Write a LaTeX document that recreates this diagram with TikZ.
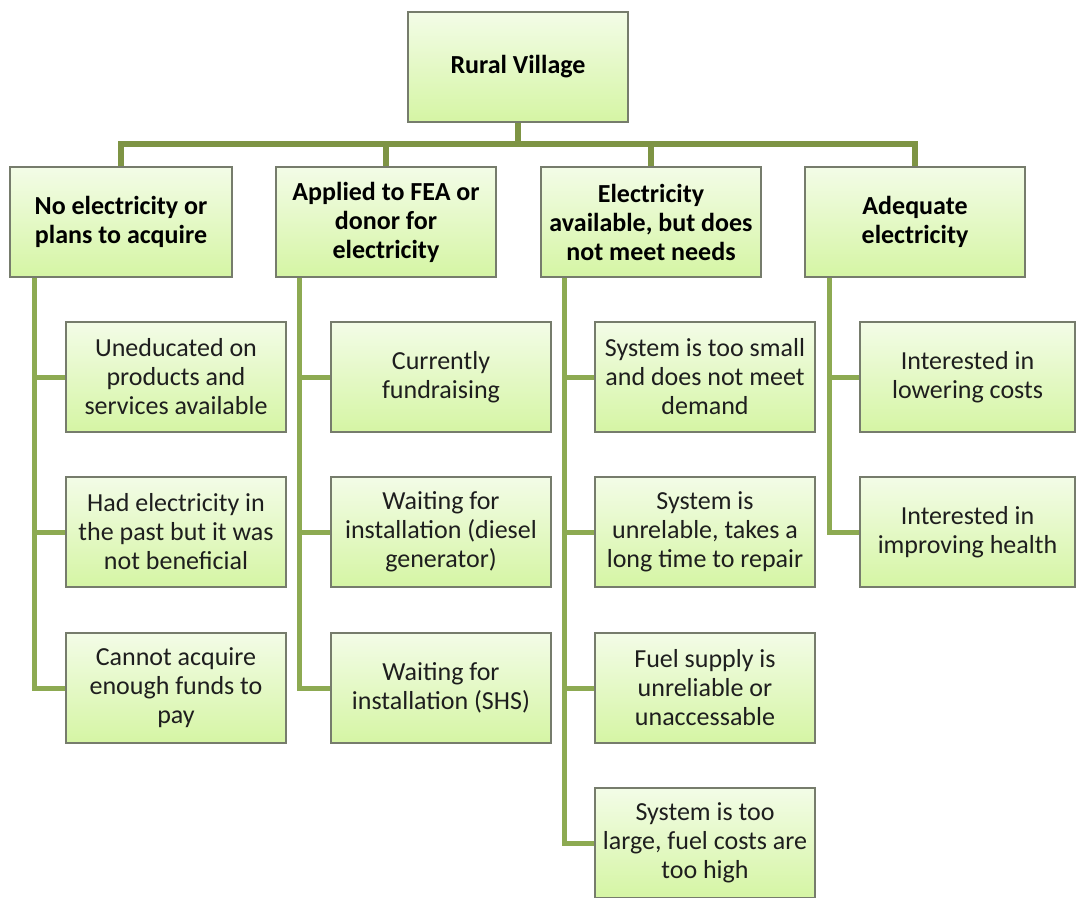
\documentclass[tikz,border=0pt]{standalone}
\usepackage{fontspec}
\setmainfont{Carlito}
\usepackage{tikz}
\usetikzlibrary{calc, shadows, positioning}
\definecolor{LeafTop}{RGB}{243, 252, 231}
\definecolor{LeafBottom}{RGB}{213, 245, 164}
\definecolor{BoxEdge}{RGB}{118, 124, 108}
\definecolor{BranchOlive}{RGB}{126, 148, 68}
\definecolor{TwigGreen}{RGB}{141, 170, 82}
\definecolor{InkGrey}{RGB}{30, 30, 30}

\begin{document}
\begin{tikzpicture}[x=1pt, y=-1pt,
    leaf/.style={draw=BoxEdge, line width=1.1pt, top color=LeafTop, bottom color=LeafBottom,
        drop shadow={shadow xshift=1pt, shadow yshift=-1pt, opacity=0.35},
        minimum width=220pt, minimum height=110pt, align=center, inner sep=1pt,
        text=InkGrey, font=\fontsize{26}{29}\selectfont},
    head/.style={leaf, font=\fontsize{26}{29}\selectfont\bfseries, text=black},
    branch/.style={draw=BranchOlive, line width=6pt},
    twig/.style={draw=TwigGreen, line width=5pt}]
    \useasboundingbox (0,0) rectangle (1076,897);

    % Wurzel
    \node[head] (village) at (518,67) {Rural Village};

    % Erste Ebene
    \node[head, minimum width=222pt] (none) at (121,222) {No electricity or\\plans to acquire};
    \node[head] (applied) at (386,222) {Applied to FEA or\\donor for\\electricity};
    \node[head] (partial) at (651,222) {Electricity\\available, but does\\not meet needs};
    \node[head] (adequate) at (915,222) {Adequate\\electricity};

    % Zweite Ebene: keine Elektrizitaet
    \node[leaf] (none1) at (176,377) {Uneducated on\\products and\\services available};
    \node[leaf] (none2) at (176,532) {Had electricity in\\the past but it was\\not beneficial};
    \node[leaf] (none3) at (176,688) {Cannot acquire\\enough funds to\\pay};

    % Zweite Ebene: beantragt
    \node[leaf] (applied1) at (441,377) {Currently\\fundraising};
    \node[leaf] (applied2) at (441,532) {Waiting for\\installation (diesel\\generator)};
    \node[leaf] (applied3) at (441,688) {Waiting for\\installation (SHS)};

    % Zweite Ebene: unzureichend
    \node[leaf] (partial1) at (705,377) {System is too small\\and does not meet\\demand};
    \node[leaf] (partial2) at (705,532) {System is\\unrelable, takes a\\long time to repair};
    \node[leaf] (partial3) at (705,688) {Fuel supply is\\unreliable or\\unaccessable};
    \node[leaf] (partial4) at (705,843) {System is too\\large, fuel costs are\\too high};

    % Zweite Ebene: ausreichend
    \node[leaf, minimum width=215pt] (adequate1) at (967.5,377) {Interested in\\lowering costs};
    \node[leaf, minimum width=215pt] (adequate2) at (967.5,532) {Interested in\\improving health};

    % Sammelschiene unter der Wurzel
    \coordinate (bus) at (518,144);
    \draw[branch] (village.south) -- (village.south |- bus);
    \draw[branch] (none.north) -- (none.north |- bus) -- (adequate.north |- bus) -- (adequate.north);
    \draw[branch] (applied.north) -- (applied.north |- bus);
    \draw[branch] (partial.north) -- (partial.north |- bus);

    % Seitliche Staemme
    \coordinate (noneS) at ([xshift=25pt]none.south west);
    \coordinate (appliedS) at ([xshift=24pt]applied.south west);
    \coordinate (partialS) at ([xshift=24pt]partial.south west);
    \coordinate (adequateS) at ([xshift=25pt]adequate.south west);

    \draw[twig] (noneS) |- (none3.west);
    \draw[twig] (none1.west) -- (none1.west -| noneS);
    \draw[twig] (none2.west) -- (none2.west -| noneS);

    \draw[twig] (appliedS) |- (applied3.west);
    \draw[twig] (applied1.west) -- (applied1.west -| appliedS);
    \draw[twig] (applied2.west) -- (applied2.west -| appliedS);

    \draw[twig] (partialS) |- (partial4.west);
    \draw[twig] (partial1.west) -- (partial1.west -| partialS);
    \draw[twig] (partial2.west) -- (partial2.west -| partialS);
    \draw[twig] (partial3.west) -- (partial3.west -| partialS);

    \draw[twig] (adequateS) |- (adequate2.west);
    \draw[twig] (adequate1.west) -- (adequate1.west -| adequateS);
\end{tikzpicture}
\end{document}
